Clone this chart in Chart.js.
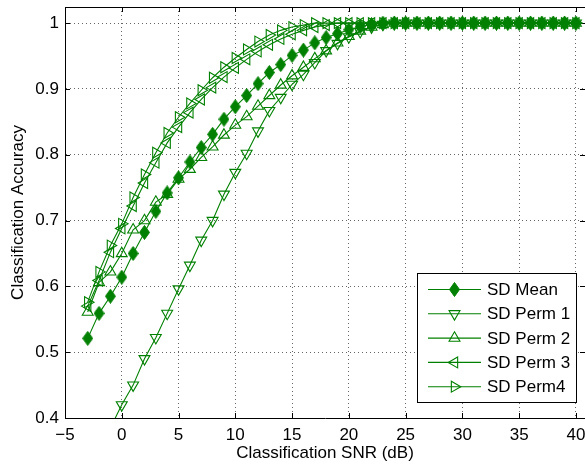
<!DOCTYPE html>
<html>
<head>
<meta charset="utf-8">
<title>Classification Accuracy vs SNR</title>
<script src="https://cdn.jsdelivr.net/npm/chart.js@4.4.0/dist/chart.umd.min.js"></script>
<style>
	html, body { margin: 0; padding: 0; background: #fff; }
	#wrap { width: 585px; height: 467px; }
</style>
</head>
<body>
<div id="wrap"><canvas id="myChart" width="585" height="467"></canvas></div>
<script>
// ----------------- Data -------------------------------------------------------//

// SNR values in dB, one point per dB
const snr = [-3, -2, -1, 0, 1, 2, 3, 4, 5, 6, 7, 8, 9, 10, 11, 12, 13, 14, 15, 16, 17, 18,
	19, 20, 21, 22, 23, 24, 25, 26, 27, 28, 29, 30, 31, 32, 33, 34, 35, 36, 37, 38, 39, 40];

const sdMean = [0.521, 0.559, 0.585, 0.614, 0.650, 0.682, 0.714, 0.742, 0.765, 0.789, 0.811,
	0.831, 0.854, 0.873, 0.890, 0.908, 0.925, 0.937, 0.951, 0.959, 0.970, 0.978, 0.984, 0.990,
	0.995, 0.998, 1, 1, 1, 1, 1, 1, 1, 1, 1, 1, 1, 1, 1, 1, 1, 1, 1, 1];

const sdPerm1 = [0.320, 0.350, 0.385, 0.420, 0.450, 0.490, 0.522, 0.559, 0.596, 0.632, 0.670,
	0.700, 0.740, 0.773, 0.802, 0.836, 0.867, 0.887, 0.907, 0.922, 0.940, 0.958, 0.969, 0.979,
	0.987, 0.994, 0.998, 1, 1, 1, 1, 1, 1, 1, 1, 1, 1, 1, 1, 1, 1, 1, 1, 1];

const sdPerm2 = [0.561, 0.606, 0.622, 0.650, 0.686, 0.700, 0.728, 0.740, 0.763, 0.778, 0.796,
	0.812, 0.830, 0.845, 0.858, 0.874, 0.890, 0.906, 0.920, 0.933, 0.946, 0.958, 0.970, 0.980,
	0.988, 0.994, 0.998, 1, 1, 1, 1, 1, 1, 1, 1, 1, 1, 1, 1, 1, 1, 1, 1, 1];

const sdPerm3 = [0.570, 0.609, 0.652, 0.688, 0.722, 0.757, 0.788, 0.818, 0.842, 0.864, 0.884,
	0.902, 0.918, 0.932, 0.945, 0.957, 0.967, 0.976, 0.983, 0.989, 0.994, 0.997, 1, 1,
	1, 1, 1, 1, 1, 1, 1, 1, 1, 1, 1, 1, 1, 1, 1, 1, 1, 1, 1, 1];

const sdPerm4 = [0.576, 0.622, 0.662, 0.695, 0.735, 0.770, 0.803, 0.833, 0.857, 0.878, 0.898,
	0.917, 0.933, 0.947, 0.960, 0.972, 0.982, 0.989, 0.994, 0.997, 1, 1, 1, 1,
	1, 1, 1, 1, 1, 1, 1, 1, 1, 1, 1, 1, 1, 1, 1, 1, 1, 1, 1, 1];

const seriesNames = ["SD Mean", "SD Perm 1", "SD Perm 2", "SD Perm 3", "SD Perm4"];

const xTicks = [-5, 0, 5, 10, 15, 20, 25, 30, 35, 40];
const yTicks = [0.4, 0.5, 0.6, 0.7, 0.8, 0.9, 1];

// ----------------- Styling -------------------------//

const green = "#008000";
const fontFamily = "'Liberation Sans', Arial, Helvetica, sans-serif";

// MATLAB's diamond is a bit taller than wide, so draw it on a small canvas
function makeDiamond(w, h, color) {
	const c = document.createElement("canvas");
	c.width = w;
	c.height = h;
	const g = c.getContext("2d");
	g.fillStyle = color;
	g.strokeStyle = color;
	g.lineWidth = 1;
	g.beginPath();
	g.moveTo(w / 2, 0.5);
	g.lineTo(w - 0.5, h / 2);
	g.lineTo(w / 2, h - 0.5);
	g.lineTo(0.5, h / 2);
	g.closePath();
	g.fill();
	g.stroke();
	return c;
}
const diamond = makeDiamond(11, 15, green);

function toPoints(values) {
	return snr.map((x, i) => ({ x: x, y: values[i] }));
}

function makeDataset(label, values, style, rotation, order) {
	return {
		label: label,
		data: toPoints(values),
		borderColor: green,
		borderWidth: 1.1,
		pointStyle: style,
		pointRotation: rotation,
		pointRadius: 6.3,
		pointHoverRadius: 6.3,
		pointBorderColor: green,
		pointBackgroundColor: "rgba(0,0,0,0)",
		pointBorderWidth: 1.1,
		tension: 0,
		order: order,
	};
}

// ----------------- Plugins -------------------------//

// top border and the small inward ticks on all sides (MATLAB look)
const boxTicks = {
	id: "boxTicks",
	beforeDatasetsDraw(chart) {
		const { ctx, chartArea, scales } = chart;
		const a = chartArea;
		const len = 5;
		ctx.save();
		ctx.strokeStyle = "#000";
		ctx.lineWidth = 1;
		ctx.beginPath();
		ctx.moveTo(a.left, Math.round(a.top) + 0.5);
		ctx.lineTo(a.right, Math.round(a.top) + 0.5);
		xTicks.forEach((v) => {
			const px = Math.round(scales.x.getPixelForValue(v)) + 0.5;
			ctx.moveTo(px, a.bottom);
			ctx.lineTo(px, a.bottom - len);
			ctx.moveTo(px, a.top);
			ctx.lineTo(px, a.top + len);
		});
		yTicks.forEach((v) => {
			const py = Math.round(scales.y.getPixelForValue(v)) + 0.5;
			ctx.moveTo(a.left, py);
			ctx.lineTo(a.left + len, py);
			ctx.moveTo(a.right, py);
			ctx.lineTo(a.right - len, py);
		});
		ctx.stroke();
		ctx.restore();
	},
};

// legend box in the lower right, line with marker in the middle
const legendBox = {
	id: "legendBox",
	afterDraw(chart) {
		const ctx = chart.ctx;
		ctx.save();
		ctx.fillStyle = "#fff";
		ctx.fillRect(417.5, 273.5, 159, 129);
		ctx.strokeStyle = "#000";
		ctx.lineWidth = 1;
		ctx.strokeRect(417.5, 273.5, 159, 129);
		chart.data.datasets.forEach((ds, i) => {
			const y = 289.5 + i * 24.3;
			ctx.strokeStyle = ds.borderColor;
			ctx.lineWidth = ds.borderWidth;
			ctx.beginPath();
			ctx.moveTo(428, y);
			ctx.lineTo(481, y);
			ctx.stroke();
			ctx.fillStyle = ds.pointBackgroundColor;
			ctx.strokeStyle = ds.pointBorderColor;
			ctx.lineWidth = ds.pointBorderWidth;
			Chart.helpers.drawPoint(ctx, {
				pointStyle: ds.pointStyle,
				radius: ds.pointRadius,
				rotation: ds.pointRotation,
				borderWidth: ds.pointBorderWidth,
			}, 454.5, y);
			ctx.fillStyle = "#000";
			ctx.font = "17px " + fontFamily;
			ctx.textAlign = "left";
			ctx.textBaseline = "middle";
			ctx.fillText(ds.label, 487, y + 1);
		});
		ctx.restore();
	},
};

// ----------------- Chart -------------------------//

Chart.defaults.font.family = fontFamily;
Chart.defaults.font.size = 17;
Chart.defaults.color = "#000";

const ctx = document.getElementById("myChart");
const myChart = new Chart(ctx, {
	type: "line",
	data: {
		datasets: [
			makeDataset(seriesNames[0], sdMean, diamond, 0, 5),
			makeDataset(seriesNames[1], sdPerm1, "triangle", 180, 4),
			makeDataset(seriesNames[2], sdPerm2, "triangle", 0, 3),
			makeDataset(seriesNames[3], sdPerm3, "triangle", 270, 2),
			makeDataset(seriesNames[4], sdPerm4, "triangle", 90, 1),
		],
	},
	options: {
		responsive: false,
		animation: false,
		events: [],
		layout: { autoPadding: false, padding: { top: 7, right: 0, left: 0, bottom: 0 } },
		scales: {
			x: {
				type: "linear",
				min: -5,
				max: 40.8,
				afterFit: (scale) => {
					scale.height = 49;
					scale.paddingLeft = 0;
					scale.paddingRight = 0;
				},
				afterBuildTicks: (scale) => { scale.ticks = xTicks.map((v) => ({ value: v })); },
				ticks: {
					padding: 7,
					maxRotation: 0,
					autoSkip: false,
					callback: (v) => (v < 0 ? "\u2212" + Math.abs(v) : String(v)),
				},
				grid: { color: "rgba(0,0,0,0.6)", lineWidth: 1, drawTicks: false },
				border: { display: true, color: "#000", width: 1, dash: [1, 3] },
				title: {
					display: true,
					text: "Classification SNR (dB)",
					padding: { top: 0, bottom: 3 },
				},
			},
			y: {
				min: 0.4,
				max: 1.0245,
				afterFit: (scale) => {
					scale.width = 65;
					scale.paddingTop = 0;
					scale.paddingBottom = 0;
				},
				afterBuildTicks: (scale) => { scale.ticks = yTicks.map((v) => ({ value: v })); },
				ticks: {
					padding: 6,
					autoSkip: false,
					callback: (v) => String(+v.toFixed(1)),
				},
				grid: { color: "rgba(0,0,0,0.6)", lineWidth: 1, drawTicks: false },
				border: { display: true, color: "#000", width: 1, dash: [1, 3] },
				title: {
					display: true,
					text: "Classification Accuracy",
					padding: { top: 8, bottom: 0 },
				},
			},
		},
		plugins: {
			legend: { display: false },
			tooltip: { enabled: false },
		},
	},
	plugins: [boxTicks, legendBox],
});
</script>
</body>
</html>
